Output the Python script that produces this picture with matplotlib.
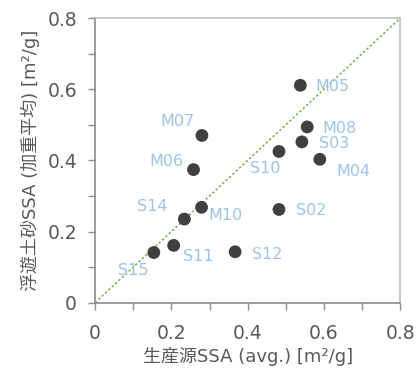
import matplotlib
matplotlib.use("Agg")
import matplotlib.pyplot as plt
import numpy as np

plt.rcParams['font.family'] = ['DejaVu Sans', 'Noto Sans CJK JP']

names = ["M05", "M08", "S03", "S10", "M04", "S02", "M07", "M06",
         "M10", "S14", "S11", "S15", "S12"]
x_src = [0.538, 0.556, 0.542, 0.482, 0.589, 0.482, 0.280, 0.258,
         0.279, 0.234, 0.206, 0.154, 0.367]
y_sus = [0.611, 0.494, 0.452, 0.425, 0.403, 0.262, 0.470, 0.374,
         0.268, 0.235, 0.161, 0.141, 0.143]
# label offsets in points (dx, dy) and alignment
offsets = {
    "M05": (11, -1, "left"), "M08": (11, -1, "left"), "S03": (12, -1, "left"),
    "S10": (-10, -12, "center"), "M04": (12, -9, "left"), "S02": (12, -1, "left"),
    "M07": (-5, 10, "right"), "M06": (-7, 6, "right"), "M10": (5, -6, "left"),
    "S14": (-12, 9, "right"), "S11": (7, -8, "left"), "S15": (-4, -13, "right"),
    "S12": (12, -2, "left"),
}

fig = plt.figure(figsize=(4.17, 3.76), dpi=100)
ax = fig.add_axes([0.228, 0.195, 0.732, 0.757])

ax.plot([0, 0.8], [0, 0.8], linestyle=(0, (1.5, 1.5)), color="#70AD47", lw=1.1, zorder=1)
ax.scatter(x_src, y_sus, s=85, color="#404040", zorder=3, edgecolors="none")
for n, xv, yv in zip(names, x_src, y_sus):
    dx, dy, ha = offsets[n]
    ax.annotate(n, (xv, yv), xytext=(dx, dy), textcoords="offset points",
                ha=ha, va="center", fontsize=11.5, color="#9DC3E6")

ax.set_xlim(0, 0.8)
ax.set_ylim(0, 0.8)
ax.set_xticks(np.arange(0, 0.81, 0.2))
ax.set_yticks(np.arange(0, 0.81, 0.2))
ax.set_xticks(np.arange(0.1, 0.8, 0.2), minor=True)
ax.set_yticks(np.arange(0.1, 0.8, 0.2), minor=True)
ax.set_xticklabels(["0", "0.2", "0.4", "0.6", "0.8"])
ax.set_yticklabels(["0", "0.2", "0.4", "0.6", "0.8"])
ax.tick_params(which="both", direction="out", length=5, width=1, color="#8c8c8c",
               labelsize=13.5, labelcolor="#595959")
ax.tick_params(axis="x", pad=10)
ax.tick_params(axis="y", pad=8)
for sp in ax.spines.values():
    sp.set_color("#8c8c8c")
    sp.set_linewidth(1.2)
for sp in ("top", "right"):
    ax.spines[sp].set_color("#bfbfbf")

ax.set_xlabel("生産源SSA (avg.) [m²/g]", fontsize=13, color="#595959", labelpad=3)
ax.set_ylabel("浮遊土砂SSA (加重平均) [m²/g]", fontsize=13, color="#595959", labelpad=5)

fig.savefig("out.png", dpi=100)
